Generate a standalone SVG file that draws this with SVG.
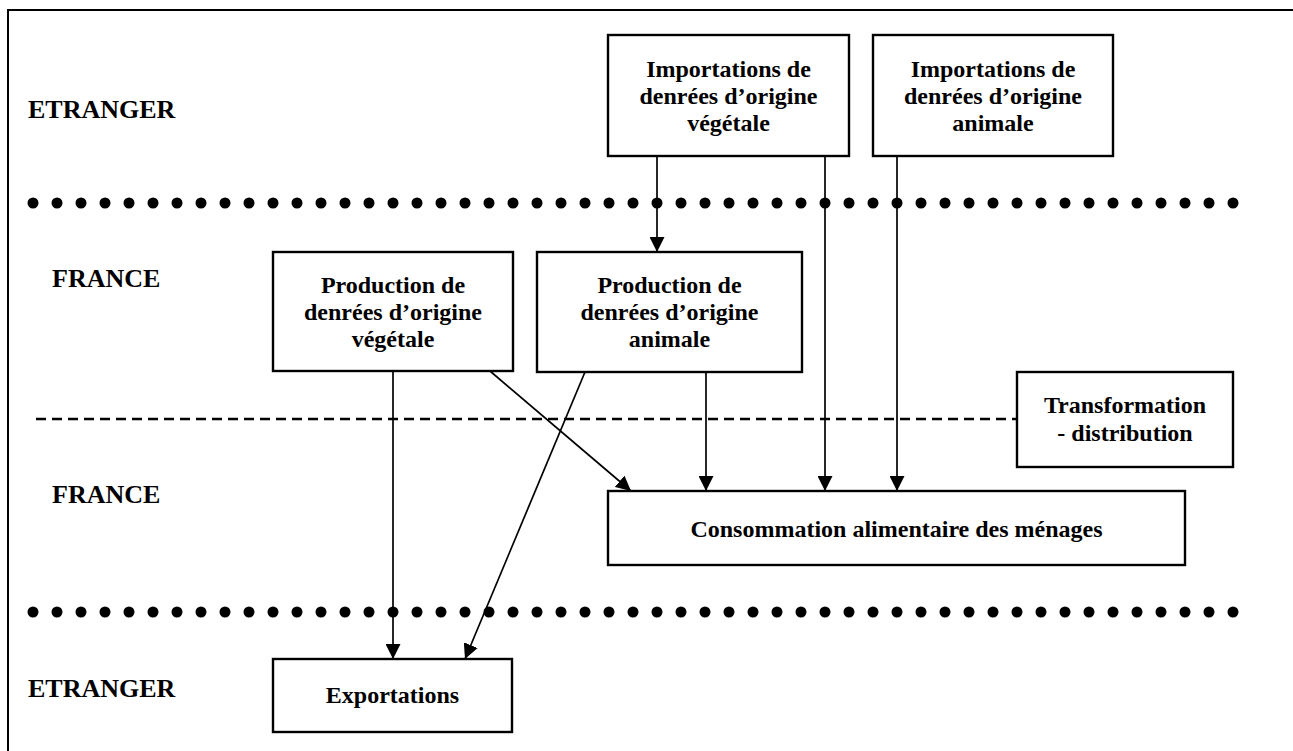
<svg xmlns="http://www.w3.org/2000/svg" width="1293" height="751" viewBox="0 0 1293 751">
<style>
  .box { fill: #fff; stroke: #000; stroke-width: 2.4; }
  .t { font-family: "Liberation Serif", "Times New Roman", serif; font-weight: bold; font-size: 24px; fill: #000; text-anchor: middle; }
  .lab { font-family: "Liberation Serif", "Times New Roman", serif; font-weight: bold; font-size: 26px; fill: #000; }
  .dots { stroke: #000; stroke-width: 11; stroke-linecap: round; stroke-dasharray: 0 24; fill: none; }
  .dash { stroke: #000; stroke-width: 2.6; stroke-dasharray: 10 6; fill: none; }
  .frame { stroke: #000; stroke-width: 2; fill: none; }
  .conn line { stroke: #000; stroke-width: 1.7; fill: none; marker-end: url(#arr); }
</style>
<defs>
  <marker id="arr" markerUnits="userSpaceOnUse" markerWidth="15" markerHeight="15" refX="15" refY="7.5" orient="auto">
    <path d="M0,0 L15,7.5 L0,15 z" fill="#000"/>
  </marker>
</defs>
<rect width="1293" height="751" fill="#fff"/>
<g id="frame">
  <polyline class="frame" points="8,751 8,10 1293,10"/>
</g>
<g id="separators">
  <line class="dots" x1="33" y1="203" x2="1240" y2="203"/>
  <line class="dots" x1="33" y1="612" x2="1240" y2="612"/>
  <line class="dash" x1="36" y1="419" x2="1017" y2="419"/>
</g>
<g id="labels">
  <text class="lab" x="28" y="118">ETRANGER</text>
  <text class="lab" x="52" y="287">FRANCE</text>
  <text class="lab" x="52" y="503">FRANCE</text>
  <text class="lab" x="28" y="697">ETRANGER</text>
</g>
<g class="conn" id="connectors">
  <line x1="657" y1="156" x2="657" y2="252"/>
  <line x1="825" y1="156" x2="825" y2="491"/>
  <line x1="897" y1="156" x2="897" y2="491"/>
  <line x1="393" y1="371" x2="393" y2="659"/>
  <line x1="490" y1="371" x2="631" y2="491"/>
  <line x1="585" y1="372" x2="465" y2="659"/>
  <line x1="706" y1="372" x2="706" y2="491"/>
</g>
<g id="import-vegetale">
  <rect class="box" x="608" y="35" width="241" height="121"/>
  <text class="t" x="728.5" y="77">Importations de</text>
  <text class="t" x="728.5" y="104">denrées d’origine</text>
  <text class="t" x="728.5" y="131">végétale</text>
</g>
<g id="import-animale">
  <rect class="box" x="873" y="35" width="240" height="121"/>
  <text class="t" x="993" y="77">Importations de</text>
  <text class="t" x="993" y="104">denrées d’origine</text>
  <text class="t" x="993" y="131">animale</text>
</g>
<g id="production-vegetale">
  <rect class="box" x="273" y="252" width="240" height="119"/>
  <text class="t" x="393" y="293">Production de</text>
  <text class="t" x="393" y="320">denrées d’origine</text>
  <text class="t" x="393" y="347">végétale</text>
</g>
<g id="production-animale">
  <rect class="box" x="537" y="252" width="265" height="120"/>
  <text class="t" x="669.5" y="293">Production de</text>
  <text class="t" x="669.5" y="320">denrées d’origine</text>
  <text class="t" x="669.5" y="347">animale</text>
</g>
<g id="transformation">
  <rect class="box" x="1017" y="372" width="216" height="95"/>
  <text class="t" x="1125" y="413">Transformation</text>
  <text class="t" x="1125" y="441">- distribution</text>
</g>
<g id="consommation">
  <rect class="box" x="608" y="491" width="577" height="74"/>
  <text class="t" x="896.5" y="537">Consommation alimentaire des ménages</text>
</g>
<g id="exportations">
  <rect class="box" x="273" y="659" width="239" height="73"/>
  <text class="t" x="392.5" y="703">Exportations</text>
</g>
</svg>
